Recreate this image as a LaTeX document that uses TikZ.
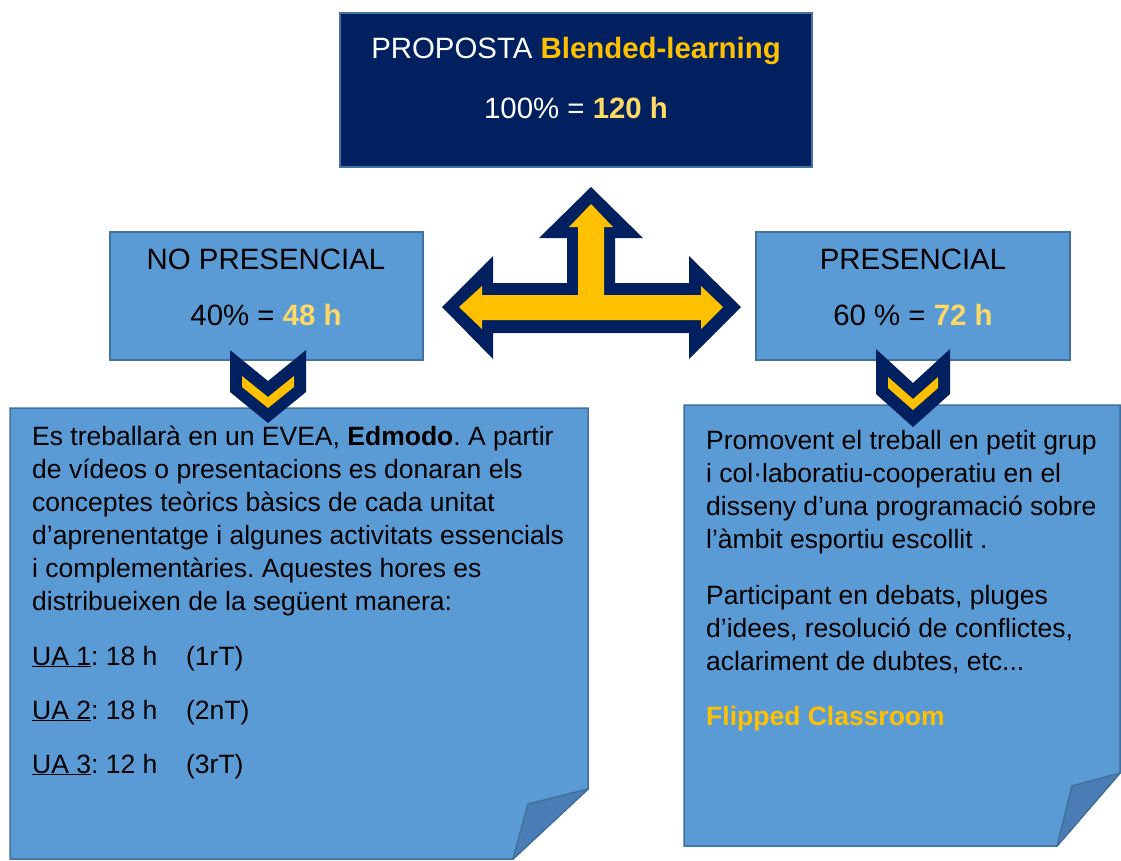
\documentclass[tikz,border=0pt]{standalone}
\usepackage{fontspec}
\setmainfont{Liberation Sans}
\usepackage{tikz}
\usetikzlibrary{positioning}
\frenchspacing
\definecolor{navy}{HTML}{002060}
\definecolor{boxblue}{HTML}{5B9BD5}
\definecolor{edgeblue}{HTML}{41719C}
\definecolor{foldblue}{HTML}{4A7DB5}
\definecolor{gold}{HTML}{FFC000}
\definecolor{paleyellow}{HTML}{FFD966}
\tikzset{headtext/.style = {anchor=base, inner sep=0, font=\fontsize{29.4}{35}\selectfont}}
\tikzset{notetext/.style = {anchor=base west, inner sep=0, align=left, font=\fontsize{26.5}{33}\selectfont}}
\tikzset{bluebox/.style = {fill=boxblue, draw=edgeblue, line width=1.5}}
\tikzset{foldpart/.style = {fill=foldblue, draw=edgeblue, line width=1.5, line join=round}}

\begin{document}
\begin{tikzpicture}[x=1pt, y=-1pt]
        \useasboundingbox (0,0) rectangle (1121,860);
        % heading boxes
        \filldraw [fill=navy, draw=edgeblue, line width=1.5] (340,13) rectangle (812,167);
        \filldraw [bluebox] (110,232) rectangle (423,360);
        \filldraw [bluebox] (756,232) rectangle (1070,360);
        % notes with folded corner
        \filldraw [bluebox] (10,408) -- (588,408) -- (588,789) -- (513,859) -- (10,859) -- cycle;
        \filldraw [foldpart] (588,789) -- (528,804) -- (513,859) -- cycle;
        \filldraw [bluebox] (684,405) -- (1120,405) -- (1120,773) -- (1057,846) -- (684,846) -- cycle;
        \filldraw [foldpart] (1120,773) -- (1072,786) -- (1057,846) -- cycle;
        % three-way arrow
        \fill [navy] (591,187) -- (643,238) -- (615,238) -- (615,283) -- (689,283) -- (689,256) -- (741,307)
            -- (689,359) -- (689,333) -- (493,333) -- (493,359) -- (442,307) -- (493,256) -- (493,283)
            -- (567,283) -- (567,238) -- (539,238) -- cycle;
        \fill [gold] (591,204) -- (613,227) -- (604,227) -- (604,295) -- (701,295) -- (701,286) -- (723,307)
            -- (701,329) -- (701,320) -- (482,320) -- (482,329) -- (459,307) -- (482,286) -- (482,295)
            -- (578,295) -- (578,227) -- (569,227) -- cycle;
        % chevrons
        \fill [navy] (230,350) -- (268,381) -- (306,350) -- (306,392) -- (268,423) -- (230,392) -- cycle;
        \fill [gold] (242,376) -- (268,397) -- (294,376) -- (294,387) -- (268,408) -- (242,387) -- cycle;
        \fill [navy] (876,349) -- (913,383) -- (950,349) -- (950,394) -- (913,427) -- (876,394) -- cycle;
        \fill [gold] (888,377) -- (913,399) -- (938,377) -- (938,388) -- (913,410) -- (888,388) -- cycle;
        % texts (base anchor of a multi-line node = last line)
        \node [headtext, white] (proptitle) at (576,58) {PROPOSTA \textbf{\color{gold}Blended-learning}};
        \node [headtext, white] (prophours) at (576,118) {100\% = \textbf{\color{paleyellow}120 h}};
        \node [headtext] (nopres) at (266,269) {NO PRESENCIAL};
        \node [headtext] (nopreshours) at (266,325) {40\% = \textbf{\color{paleyellow}48 h}};
        \node [headtext] (pres) at (913,269) {PRESENCIAL};
        \node [headtext] (preshours) at (913,325) {60 \% = \textbf{\color{paleyellow}72 h}};
        \node [notetext] (evea) at (32,610) {Es treballarà en un EVEA, \textbf{Edmodo}. A partir\\
            de vídeos o presentacions es donaran els\\
            conceptes teòrics bàsics de cada unitat\\
            d’aprenentatge i algunes activitats essencials\\
            i complementàries. Aquestes hores es\\
            distribueixen de la següent manera:};
        \node [notetext] (uaone) at (32,665) {\makebox[154pt][l]{\underline{UA 1}: 18 h}(1rT)};
        \node [notetext] (uatwo) at (32,719) {\makebox[154pt][l]{\underline{UA 2}: 18 h}(2nT)};
        \node [notetext] (uathree) at (32,773) {\makebox[154pt][l]{\underline{UA 3}: 12 h}(3rT)};
        \node [notetext] (grup) at (706,548) {Promovent el treball en petit grup\\
            i col·laboratiu-cooperatiu en el\\
            disseny d’una programació sobre\\
            l’àmbit esportiu escollit .};
        \node [notetext] (debats) at (706,670) {Participant en debats, pluges\\
            d’idees, resolució de conflictes,\\
            aclariment de dubtes, etc...};
        \node [notetext, gold] (flipped) at (706,725) {\textbf{Flipped Classroom}};
    \end{tikzpicture}
\end{document}
